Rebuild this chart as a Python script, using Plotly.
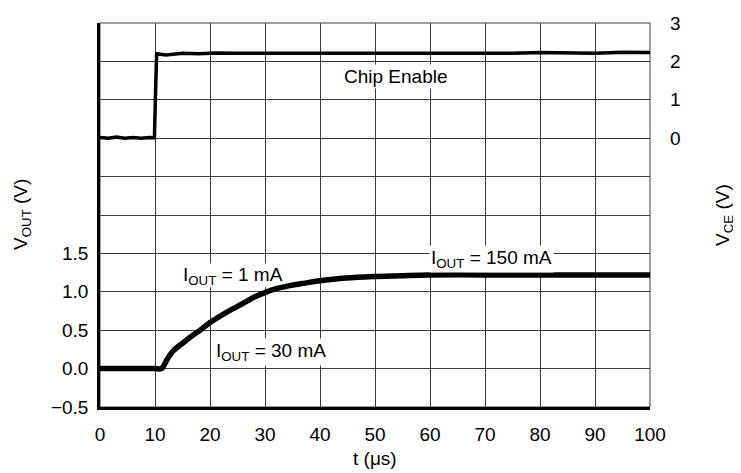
import plotly.graph_objects as go

# chip enable trace (right axis, V)
ce_t = [0, 1.5, 3, 4.5, 6, 7.5, 9, 9.9, 10.1, 10.3, 12, 15, 18, 21, 25, 30, 35, 40, 45,
        50, 55, 60, 65, 70, 75, 80, 85, 90, 95, 100]
ce_v = [0.02, 0.0, 0.03, 0.0, 0.02, 0.0, 0.02, 0.01, 1.2, 2.2, 2.17, 2.21, 2.2, 2.22, 2.21,
        2.21, 2.22, 2.21, 2.22, 2.2, 2.22, 2.21, 2.21, 2.22, 2.21, 2.23, 2.22, 2.21, 2.24, 2.23]

# output voltage trace (left axis, V)
vout_t = [0, 5, 10, 11.2, 12.2, 13.3, 15.0, 17.0, 18.2, 20.0, 22.0, 24.2, 26.0, 28.0,
          30.0, 32.0, 34.5, 37.0, 39.7, 44.7, 49.7, 54.7, 59.7, 70, 80, 90, 100]
vout_v = [0, 0, 0, 0, 0.12, 0.23, 0.33, 0.44, 0.5, 0.6, 0.69, 0.78, 0.85, 0.93,
          0.99, 1.04, 1.08, 1.11, 1.14, 1.18, 1.2, 1.21, 1.22, 1.22, 1.22, 1.22, 1.22]

left_tick_vals = [-0.5, 0.0, 0.5, 1.0, 1.5, 2.0, 2.5, 3.0, 3.5, 4.0, 4.5]
left_tick_text = ["\u22120.5", "0.0", "0.5", "1.0", "1.5", "", "", "", "", "", ""]
right_tick_vals = [0, 1, 2, 3]
x_tick_vals = [0, 10, 20, 30, 40, 50, 60, 70, 80, 90, 100]

FONT = "Liberation Sans, Arial, Helvetica, sans-serif"
GRID = "#3c3c3c"

fig = go.Figure()
fig.add_trace(go.Scatter(x=ce_t, y=ce_v, yaxis="y2", mode="lines",
                         line=dict(color="black", width=3.5), showlegend=False))
fig.add_trace(go.Scatter(x=vout_t, y=vout_v, mode="lines",
                         line=dict(color="black", width=5.5, shape="spline", smoothing=0.8),
                         showlegend=False))

# page body has an 8px margin, so the figure is sized to fit inside it
fig.update_layout(
    width=733, height=465,
    margin=dict(l=92, r=91, t=15, b=66, autoexpand=False),
    paper_bgcolor="white", plot_bgcolor="white",
    font=dict(family=FONT, size=19, color="black"),
    xaxis=dict(range=[0, 100], tickvals=x_tick_vals, showgrid=True, gridcolor=GRID,
               gridwidth=1, zeroline=False, showline=True, linecolor="black",
               linewidth=2.5, ticks="", ticklabelstandoff=8, automargin=False),
    yaxis=dict(range=[-0.5, 4.5], tickvals=left_tick_vals, ticktext=left_tick_text,
               showgrid=True, gridcolor=GRID, gridwidth=1, zeroline=False,
               showline=True, linecolor="black", linewidth=2.5, ticks="",
               ticklabelstandoff=5, automargin=False),
    yaxis2=dict(range=[-7, 3], tickvals=right_tick_vals, overlaying="y", side="right",
                showgrid=False, zeroline=False, showline=False, ticks="",
                ticklabelstandoff=19, automargin=False),
)

# thin frame on top and right
fig.add_shape(type="rect", xref="paper", yref="paper", x0=0, x1=1, y0=0, y1=1,
              line=dict(color=GRID, width=1), layer="below")
# white patch behind the 1 mA label: hides the grid but not the curve
fig.add_shape(type="rect", x0=13.8, x1=34.6, y0=1.06, y1=1.37, layer="between",
              fillcolor="white", line=dict(width=0))

box = dict(bgcolor="white", borderpad=1, showarrow=False)
fig.add_annotation(x=53.8, y=1.6, yref="y2", text="Chip Enable", **box)
fig.add_annotation(x=24.2, y=1.2, text="I<sub>OUT</sub> = 1 mA", showarrow=False)
fig.add_annotation(x=31, y=0.22, text="I<sub>OUT</sub> = 30 mA", **box)
fig.add_annotation(x=71.1, y=1.43, text="I<sub>OUT</sub> = 150 mA", **box)

# axis titles
title = dict(xref="paper", yref="paper", xanchor="center", yanchor="middle", showarrow=False)
fig.add_annotation(x=0, y=0.5, xshift=-78, textangle=-90, text="V<sub>OUT</sub> (V)", **title)
fig.add_annotation(x=1, y=0.5, xshift=74, textangle=-90, text="V<sub>CE</sub> (V)", **title)
fig.add_annotation(x=0.5, y=0, yshift=-51, text="t (\u03bcs)", **title)

fig.write_html("out.html")
